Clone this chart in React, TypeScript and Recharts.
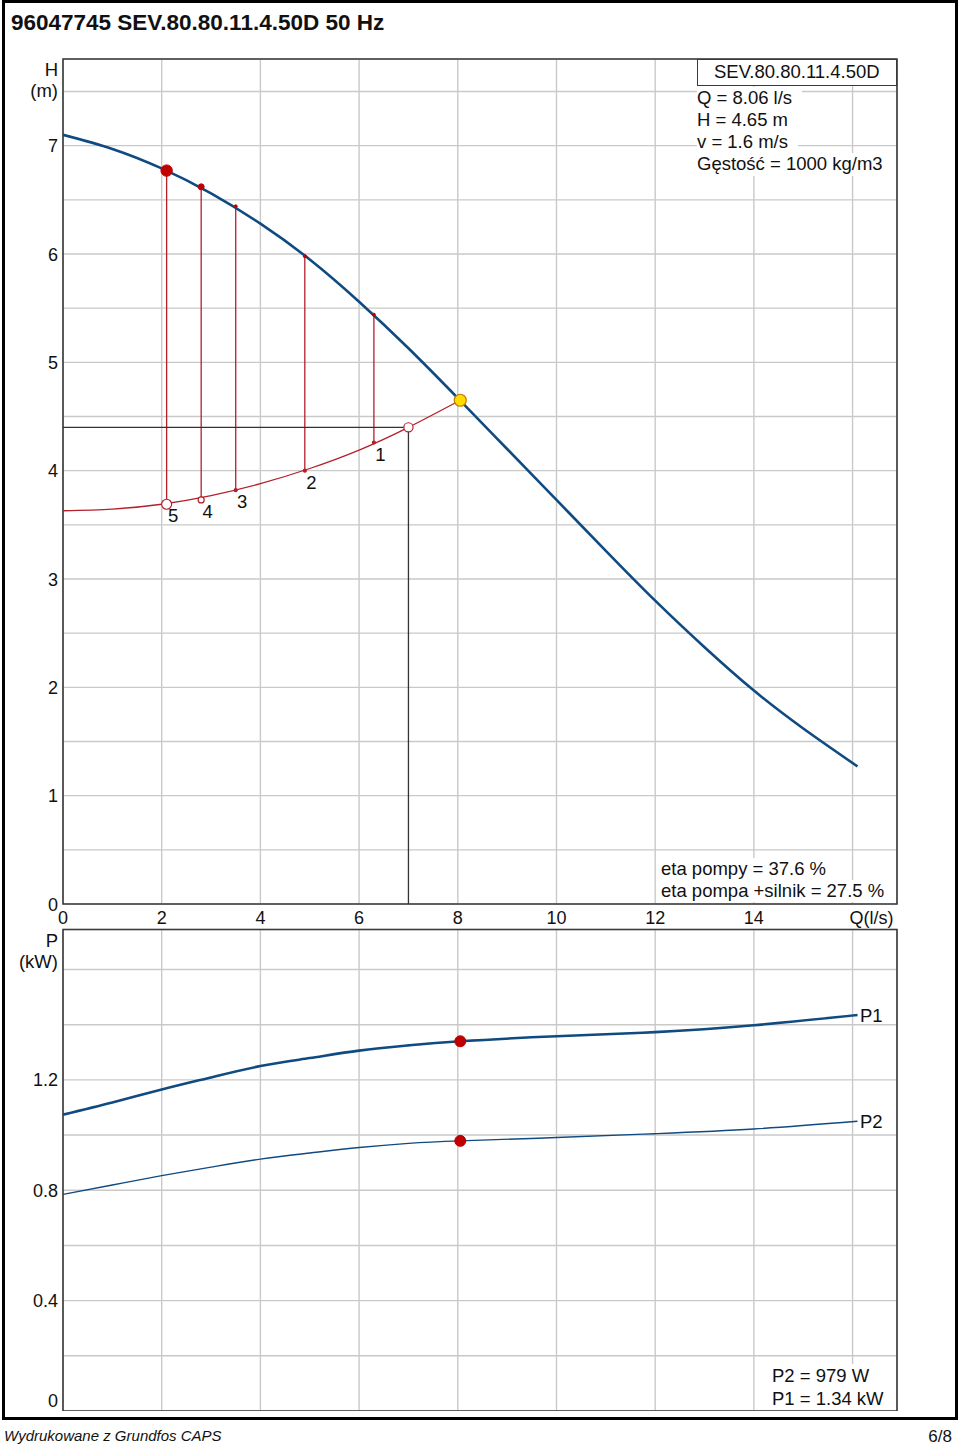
import React from 'react'
import {
  ComposedChart,
  Line,
  Scatter,
  XAxis,
  YAxis,
  CartesianGrid,
  ReferenceLine,
  ReferenceDot,
  ReferenceArea,
} from 'recharts'

const FONT = "'Liberation Sans', Arial, Helvetica, sans-serif"
const BLUE = '#0f4a80'
const RED = '#b3202a'
const DOT_RED = '#c00000'
const GRID = '#c9c9c9'
const FRAME = '#3a3a3a'

// pump curve H(Q)
const pumpQ = [0, 1, 2, 3, 4, 5, 6, 7, 8, 9, 10, 11, 12, 13, 14, 15, 16.1]
const pumpH = [7.1, 6.97, 6.79, 6.56, 6.28, 5.95, 5.56, 5.13, 4.67, 4.2, 3.73, 3.26, 2.8, 2.37, 1.97, 1.62, 1.27]

// system curve
const systemQ = [0, 1, 2, 3, 4, 5, 6, 7, 8.05]
const systemH = [3.63, 3.645, 3.69, 3.77, 3.88, 4.02, 4.19, 4.4, 4.65]

// numbered control steps
const stepLabels = ['1', '2', '3', '4', '5']
const stepQ = [6.3, 4.9, 3.5, 2.8, 2.1]
const stepTopH = [5.44, 5.98, 6.44, 6.62, 6.77]
const stepBottomH = [4.26, 4.0, 3.82, 3.73, 3.69]

const dutyQ = 8.05
const dutyH = 4.65
const requiredQ = 7.0
const requiredH = 4.4

// power curves
const powerQ = [0, 1, 2, 3, 4, 5, 6, 7, 8.05, 10, 12, 14, 16.1]
const p1 = [1.074, 1.118, 1.165, 1.209, 1.25, 1.279, 1.306, 1.325, 1.34, 1.358, 1.373, 1.398, 1.435]
const p2 = [0.785, 0.819, 0.853, 0.884, 0.913, 0.935, 0.955, 0.97, 0.979, 0.991, 1.005, 1.022, 1.05]
const dutyP1 = 1.34
const dutyP2 = 0.979

// axes
const qTicks = [0, 2, 4, 6, 8, 10, 12, 14, 16]
const hTicks = [0, 0.5, 1, 1.5, 2, 2.5, 3, 3.5, 4, 4.5, 5, 5.5, 6, 6.5, 7, 7.5]
const pTicks = [0, 0.2, 0.4, 0.6, 0.8, 1.0, 1.2, 1.4, 1.6]
const pLabels = [0, 0.4, 0.8, 1.2]
const qMax = 16.9
const hMax = 7.8
const pMax = 1.745

const title = '96047745 SEV.80.80.11.4.50D 50 Hz'
const pumpName = 'SEV.80.80.11.4.50D'
const infoLines = ['Q = 8.06 l/s', 'H = 4.65 m', 'v = 1.6 m/s', 'Gęstość = 1000 kg/m3']
const etaLines = ['eta pompy = 37.6 %', 'eta pompa +silnik = 27.5 %']
const powerLines = ['P2 = 979 W', 'P1 = 1.34 kW']

const pumpData = pumpQ.map((q, i) => ({ q, h: pumpH[i] }))
const systemData = systemQ.map((q, i) => ({ q, h: systemH[i] }))
const stepLabelData = stepQ.map((q, i) => ({ q, h: stepBottomH[i], label: stepLabels[i] }))
const p1Data = powerQ.map((q, i) => ({ q, p: p1[i] }))
const p2Data = powerQ.map((q, i) => ({ q, p: p2[i] }))

// top offset of a text box so that its baseline lands at `baseline`
const topFor = (baseline: number, fs: number, lh: number) => baseline - ((lh - 1.117 * fs) / 2 + 0.905 * fs)

const txt = (fs: number): React.CSSProperties => ({
  position: 'absolute',
  fontFamily: FONT,
  fontSize: fs,
  color: '#111',
  whiteSpace: 'nowrap',
})

const HTick = (props: any) => {
  const { x, y, payload } = props
  if (!Number.isInteger(payload.value)) return <g />
  return (
    <text x={x} y={y} dy={6.5} textAnchor="end" fontSize={18} fontFamily={FONT} fill="#111">
      {payload.value}
    </text>
  )
}

const PTick = (props: any) => {
  const { x, y, payload } = props
  if (!pLabels.some(v => Math.abs(v - payload.value) < 1e-6)) return <g />
  return (
    <text x={x} y={y} dy={payload.value === 0 ? -4 : 6.5} textAnchor="end" fontSize={18} fontFamily={FONT} fill="#111">
      {payload.value === 0 ? '0' : payload.value.toFixed(1)}
    </text>
  )
}

const QTick = (props: any) => {
  const { x, y, payload } = props
  const last = payload.value === 16
  return (
    <text x={last ? x + 19 : x} y={y} dy={19.5} textAnchor="middle" fontSize={18} fontFamily={FONT} fill="#111">
      {last ? 'Q(l/s)' : payload.value}
    </text>
  )
}

const NoTick = () => <g />

const StepLabel = (props: any) => {
  const { cx, cy, payload } = props
  return (
    <text x={cx + 6.5} y={cy + 18} textAnchor="middle" fontSize={18.5} fontFamily={FONT} fill="#111">
      {payload.label}
    </text>
  )
}

const topMarkerR = [1.5, 1.5, 1.5, 3, 5.7]
const bottomMarkerR = [1.5, 1.5, 1.5, 3, 5]

export default function App() {
  return (
    <div style={{ position: 'absolute', left: 0, top: 0, width: 960, height: 1445, background: '#fff', overflow: 'hidden' }}>
      {/* outer frame */}
      <div style={{ position: 'absolute', left: 2, top: 0, width: 956, height: 1420, border: '3px solid #000', boxSizing: 'border-box' }} />

      <div style={{ ...txt(22.5), fontWeight: 'bold', left: 11, top: topFor(31, 22.5, 26), lineHeight: '26px' }}>{title}</div>

      {/* head chart */}
      <div style={{ position: 'absolute', left: 0, top: 0 }}>
        <ComposedChart width={960} height={928} margin={{ top: 59, right: 63, bottom: 0, left: 0 }}>
          <CartesianGrid stroke={GRID} strokeWidth={1.4} />
          <XAxis
            type="number"
            dataKey="q"
            domain={[0, qMax]}
            ticks={qTicks}
            allowDataOverflow
            height={24}
            axisLine={false}
            tickLine={false}
            tickSize={0}
            tickMargin={0}
            tick={<QTick />}
            interval={0}
          />
          <YAxis
            type="number"
            domain={[0, hMax]}
            ticks={hTicks}
            allowDataOverflow
            width={63}
            axisLine={false}
            tickLine={false}
            tickSize={0}
            tickMargin={5}
            tick={<HTick />}
            interval={0}
          />
          <ReferenceArea x1={0} x2={qMax} y1={0} y2={hMax} fill="none" stroke={FRAME} strokeWidth={1.6} ifOverflow="visible" />
          {stepQ.map((q, i) => (
            <ReferenceLine
              key={`step-${i}`}
              segment={[{ x: q, y: stepBottomH[i] }, { x: q, y: stepTopH[i] }]}
              stroke={RED}
              strokeWidth={1.3}
            />
          ))}
          <ReferenceLine segment={[{ x: 0, y: requiredH }, { x: requiredQ, y: requiredH }]} stroke="#333" strokeWidth={1.3} />
          <ReferenceLine segment={[{ x: requiredQ, y: requiredH }, { x: requiredQ, y: 0 }]} stroke="#333" strokeWidth={1.3} />
          <Line data={systemData} dataKey="h" type="natural" stroke={RED} strokeWidth={1.3} dot={false} isAnimationActive={false} />
          <Line data={pumpData} dataKey="h" type="natural" stroke={BLUE} strokeWidth={2.6} dot={false} isAnimationActive={false} />
          <Scatter data={stepLabelData} dataKey="h" shape={<StepLabel />} isAnimationActive={false} />
          {stepQ.map((q, i) => (
            <ReferenceDot key={`top-${i}`} x={q} y={stepTopH[i]} r={topMarkerR[i]} fill={DOT_RED} stroke={DOT_RED} strokeWidth={1} />
          ))}
          {stepQ.map((q, i) => (
            <ReferenceDot
              key={`bot-${i}`}
              x={q}
              y={stepBottomH[i]}
              r={bottomMarkerR[i]}
              fill={bottomMarkerR[i] > 2 ? '#fff' : RED}
              stroke={RED}
              strokeWidth={1.2}
            />
          ))}
          <ReferenceDot x={requiredQ} y={requiredH} r={4.6} fill="#fff" stroke={RED} strokeWidth={1.2} />
          <ReferenceDot x={dutyQ} y={dutyH} r={6} fill="#ffdc00" stroke="#c47a00" strokeWidth={1.2} />
        </ComposedChart>
      </div>

      {/* power chart */}
      <div style={{ position: 'absolute', left: 0, top: 928 }}>
        <ComposedChart width={960} height={483} margin={{ top: 1.5, right: 63, bottom: 0, left: 0 }}>
          <CartesianGrid stroke={GRID} strokeWidth={1.4} />
          <XAxis
            type="number"
            dataKey="q"
            domain={[0, qMax]}
            ticks={qTicks}
            allowDataOverflow
            height={0}
            axisLine={false}
            tickLine={false}
            tick={<NoTick />}
            interval={0}
          />
          <YAxis
            type="number"
            domain={[0, pMax]}
            ticks={pTicks}
            allowDataOverflow
            width={63}
            axisLine={false}
            tickLine={false}
            tickSize={0}
            tickMargin={5}
            tick={<PTick />}
            interval={0}
          />
          <ReferenceArea x1={0} x2={qMax} y1={0} y2={pMax} fill="none" stroke={FRAME} strokeWidth={1.6} ifOverflow="visible" />
          <Line data={p1Data} dataKey="p" type="natural" stroke={BLUE} strokeWidth={2.6} dot={false} isAnimationActive={false} />
          <Line data={p2Data} dataKey="p" type="natural" stroke={BLUE} strokeWidth={1.4} dot={false} isAnimationActive={false} />
          <ReferenceDot x={dutyQ} y={dutyP1} r={5.5} fill={DOT_RED} stroke={DOT_RED} />
          <ReferenceDot x={dutyQ} y={dutyP2} r={5.5} fill={DOT_RED} stroke={DOT_RED} />
        </ComposedChart>
      </div>

      {/* axis titles */}
      <div style={{ ...txt(18.5), left: 0, width: 58, textAlign: 'right', top: topFor(76, 18.5, 21), lineHeight: '21px' }}>
        H<br />(m)
      </div>
      <div style={{ ...txt(18.5), left: 0, width: 58, textAlign: 'right', top: topFor(947, 18.5, 21), lineHeight: '21px' }}>
        P<br />(kW)
      </div>

      {/* pump name box */}
      <div
        style={{
          ...txt(18.5),
          left: 697,
          top: 59,
          width: 200,
          height: 27,
          border: `1.3px solid ${FRAME}`,
          boxSizing: 'border-box',
          background: '#fff',
          paddingLeft: 16,
          lineHeight: '24px',
        }}
      >
        {pumpName}
      </div>

      {/* duty point info */}
      <div style={{ ...txt(18.5), left: 697, top: topFor(104.3, 18.5, 22.2) }}>
        {infoLines.map(s => (
          <div key={s} style={{ background: '#fff', width: 'fit-content', height: 22.2, lineHeight: '22.2px', paddingRight: 10 }}>
            {s}
          </div>
        ))}
      </div>

      <div style={{ ...txt(18.5), left: 657, top: topFor(875, 18.5, 22) }}>
        {etaLines.map(s => (
          <div key={s} style={{ background: '#fff', width: 'fit-content', height: 22, lineHeight: '22px', paddingLeft: 4, paddingRight: 6 }}>
            {s}
          </div>
        ))}
      </div>

      <div style={{ ...txt(18.5), left: 768, top: topFor(1382, 18.5, 23) }}>
        {powerLines.map(s => (
          <div key={s} style={{ background: '#fff', width: 'fit-content', height: 23, lineHeight: '23px', paddingLeft: 4, paddingRight: 6 }}>
            {s}
          </div>
        ))}
      </div>

      <div style={{ ...txt(18.5), left: 860, top: topFor(1022, 18.5, 22), lineHeight: '22px' }}>P1</div>
      <div style={{ ...txt(18.5), left: 860, top: topFor(1128, 18.5, 22), lineHeight: '22px' }}>P2</div>

      {/* footer */}
      <div style={{ ...txt(15), fontStyle: 'italic', left: 4, top: topFor(1441, 15, 18), lineHeight: '18px' }}>
        Wydrukowane z Grundfos CAPS
      </div>
      <div style={{ ...txt(17), right: 8, top: topFor(1443, 17, 20), lineHeight: '20px' }}>6/8</div>
    </div>
  )
}
